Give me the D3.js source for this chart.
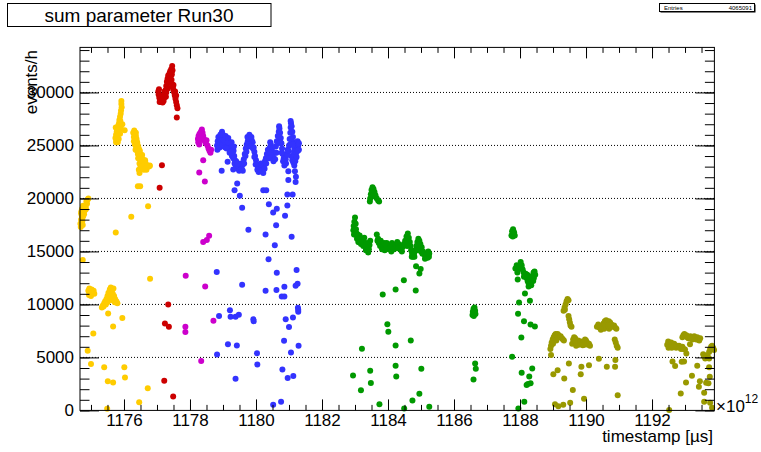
<!DOCTYPE html>
<html>
<head>
<meta charset="utf-8">
<script src="https://cdn.jsdelivr.net/npm/d3@7"></script>
<style>
  body { margin: 0; background: #fff; }
  svg { display: block; font-family: "Liberation Sans", Arial, Helvetica, sans-serif; }
</style>
</head>
<body>
<div id="chart"></div>
<script>
const title = 'sum parameter Run30';
const entries = 4065091;
const xTickLabels = [1176, 1178, 1180, 1182, 1184, 1186, 1188, 1190, 1192];
const yTickLabels = [0, 5000, 10000, 15000, 20000, 25000, 30000];
const xRange = [1174.667, 1193.89];
const yRange = [0, 34250];

// [timestamp (x1e12 us), events/h]
const yellowPts = [
  [1174.68, 17600], [1174.70, 18000], [1174.72, 18400], [1174.71, 18800], [1174.74, 17900], [1174.76, 18300],
  [1174.78, 18700], [1174.80, 19100], [1174.79, 18500], [1174.82, 18900], [1174.84, 19300], [1174.86, 19700],
  [1174.88, 19500], [1174.90, 19900], [1174.92, 20000], [1174.75, 17500], [1174.73, 19000],
  [1174.70, 18600], [1174.76, 19300], [1174.85, 19000], [1174.69, 17300],
  [1174.75, 14180],
  [1174.92, 11300], [1174.95, 11500], [1174.98, 11200], [1175.02, 11400], [1175.05, 11100], [1175.08, 11300],
  [1175.10, 11000], [1174.94, 10900], [1175.00, 10800],
  [1175.33, 9700], [1175.36, 9900], [1175.40, 10100], [1175.43, 10300], [1175.47, 10500], [1175.50, 10800],
  [1175.53, 11100], [1175.57, 11400], [1175.60, 11600], [1175.63, 11300], [1175.66, 11000], [1175.70, 10800],
  [1175.73, 10500], [1175.77, 10300], [1175.80, 10100], [1175.45, 10000], [1175.55, 10400], [1175.62, 10700],
  [1175.38, 9800], [1175.68, 11500], [1175.50, 10200], [1175.58, 10600], [1175.66, 10400], [1175.72, 10200],
  [1175.60, 11000],
  [1175.92, 29200], [1175.92, 28900], [1175.93, 28600], [1175.91, 28300], [1175.90, 28000], [1175.88, 27700],
  [1175.86, 27400], [1175.85, 27100], [1175.84, 26800], [1175.80, 26600], [1175.78, 26300], [1175.76, 26000],
  [1175.74, 25700], [1175.79, 25900], [1175.82, 26200], [1175.86, 26500], [1175.88, 26100], [1175.84, 25600],
  [1175.81, 25300], [1175.77, 25500], [1175.90, 26700], [1175.95, 27000], [1175.75, 26700],
  [1175.76, 25300], [1175.80, 25800], [1175.83, 26900], [1175.87, 26800], [1175.89, 27300],
  [1176.28, 26200], [1176.32, 26100], [1176.36, 25900], [1176.30, 25800], [1176.34, 25500], [1176.38, 25600],
  [1176.40, 25300], [1176.33, 25100], [1176.37, 24900], [1176.42, 25000], [1176.45, 24700], [1176.40, 24500],
  [1176.44, 24300], [1176.48, 24500], [1176.50, 24200], [1176.46, 24000], [1176.52, 23900], [1176.55, 24100],
  [1176.49, 23700], [1176.53, 23500], [1176.57, 23700], [1176.60, 23400], [1176.56, 23200], [1176.47, 23300],
  [1176.50, 23000], [1176.45, 22700], [1176.47, 22400], [1176.62, 23100], [1176.66, 23300], [1176.70, 23100],
  [1176.74, 23000], [1176.78, 23100], [1176.65, 22900], [1176.58, 22800], [1176.43, 23800], [1176.35, 24600],
  [1176.30, 25400], [1176.38, 24800], [1176.42, 24200], [1176.51, 23600], [1176.54, 23000], [1176.60, 22700],
  [1176.68, 22700], [1176.64, 23600], [1176.36, 26200], [1176.31, 26400],
  [1175.52, 9150], [1175.95, 8710], [1175.67, 7920], [1175.07, 7260], [1174.90, 5620], [1175.00, 4370],
  [1175.40, 4060], [1176.01, 4060], [1175.51, 2740], [1175.67, 2640], [1176.03, 3110], [1176.72, 2100],
  [1176.46, 780], [1175.49, 150], [1176.79, 12420], [1175.75, 16790], [1176.22, 18260], [1176.73, 19270],
  [1176.42, 21160], [1176.49, 21160], [1176.78, 23050], [1176.02, 26440]
];

const redPts = [
  [1177.04, 30100], [1177.05, 29800], [1177.07, 29500], [1177.10, 29300], [1177.13, 29100], [1177.17, 29050],
  [1177.20, 29200], [1177.22, 29500], [1177.24, 29800], [1177.26, 30200], [1177.28, 30600], [1177.30, 31000],
  [1177.32, 31300], [1177.34, 31600], [1177.36, 31500], [1177.38, 31800], [1177.40, 32000], [1177.43, 32200],
  [1177.46, 32500], [1177.47, 32100], [1177.45, 31700], [1177.44, 31200], [1177.46, 30800], [1177.48, 30500],
  [1177.50, 30200], [1177.52, 30000], [1177.54, 29700], [1177.56, 29400], [1177.58, 29100], [1177.60, 28800],
  [1177.62, 28500], [1177.28, 30000], [1177.33, 30400], [1177.08, 29100], [1177.15, 29400], [1177.37, 30900],
  [1177.06, 30300], [1177.12, 29700], [1177.18, 29500], [1177.23, 30100], [1177.27, 29600], [1177.30, 30300],
  [1177.35, 31100], [1177.39, 31300], [1177.42, 31600], [1177.45, 32000], [1177.50, 30700], [1177.55, 30100],
  [1177.58, 29700],
  [1177.60, 27640], [1177.15, 23140], [1177.08, 21000], [1177.34, 10000], [1177.24, 8210], [1177.36, 7890],
  [1177.22, 2790], [1177.49, 1320]
];

const magentaPts = [
  [1178.25, 25300], [1178.24, 25600], [1178.26, 25900], [1178.29, 26100], [1178.33, 26300], [1178.36, 26500],
  [1178.38, 26200], [1178.40, 25900], [1178.42, 25600], [1178.45, 25400], [1178.48, 25200], [1178.50, 25500],
  [1178.53, 25000], [1178.56, 24700], [1178.59, 24500], [1178.62, 24300], [1178.64, 24600], [1178.30, 25500],
  [1178.34, 25800], [1178.28, 25100],
  [1178.40, 23610], [1178.28, 22450], [1178.45, 21600], [1178.40, 15900], [1178.51, 16070], [1178.58, 16470],
  [1177.87, 12700], [1178.46, 11700], [1177.86, 7890], [1177.86, 7390], [1178.71, 8450], [1178.34, 4650]
];

const bluePts = [
  [1178.82, 25000], [1178.84, 25400], [1178.86, 25800], [1178.88, 25300], [1178.90, 24800], [1178.93, 25600],
  [1178.95, 26100], [1178.97, 26300], [1178.99, 25900], [1179.01, 25400], [1179.03, 24900], [1179.06, 25200],
  [1179.08, 25600], [1179.11, 25300], [1179.14, 24900], [1179.17, 25400], [1179.19, 25000], [1179.22, 24600],
  [1179.25, 24900], [1179.28, 24500], [1179.30, 24100], [1179.32, 24500], [1179.34, 24000], [1179.36, 23600],
  [1179.38, 23200], [1179.40, 23500], [1179.42, 23000], [1179.45, 22800], [1179.48, 23100], [1179.51, 22900],
  [1179.54, 23300], [1179.57, 22800], [1179.60, 23200], [1179.63, 23700], [1179.66, 24200], [1179.69, 24700],
  [1179.72, 25100], [1179.75, 25400], [1179.78, 25600], [1179.81, 25500], [1179.84, 25200], [1179.87, 25500],
  [1179.90, 25300], [1179.93, 24800], [1179.95, 24400], [1179.97, 24000], [1180.00, 23600], [1180.03, 23200],
  [1180.06, 22900], [1180.09, 22700], [1180.12, 23000], [1180.15, 23300], [1180.18, 23000], [1180.21, 22700],
  [1180.24, 23100], [1180.27, 23500], [1180.30, 23800], [1180.33, 24200], [1180.36, 24600], [1180.39, 24300],
  [1180.42, 24800], [1180.45, 25100], [1180.48, 24600], [1180.51, 24200], [1180.54, 23800], [1180.57, 24300],
  [1180.60, 24900], [1180.63, 25400], [1180.66, 25900], [1180.69, 26300], [1180.71, 26600], [1180.73, 26200],
  [1180.75, 25700], [1180.77, 25200], [1180.79, 24700], [1180.81, 24200], [1180.84, 23800], [1180.87, 23400],
  [1180.90, 23700], [1180.93, 24200], [1180.96, 24600], [1181.00, 25000], [1181.02, 25600], [1181.04, 26200],
  [1181.05, 26700], [1181.06, 27100], [1181.08, 26800], [1181.10, 26300], [1181.12, 25800], [1181.14, 25300],
  [1181.16, 24800], [1181.18, 24300], [1181.20, 23800], [1181.22, 24300], [1181.24, 24900], [1181.26, 25400],
  [1181.28, 25000], [1181.30, 24600], [1181.07, 24000], [1181.10, 23600], [1181.13, 23400], [1181.16, 23100],
  [1178.83, 24600], [1178.87, 24900], [1178.91, 25200], [1178.95, 25500], [1178.99, 25100], [1179.03, 25500],
  [1179.07, 24800], [1179.11, 24700], [1179.15, 25300], [1179.20, 24300], [1179.24, 24400], [1179.27, 24000],
  [1179.31, 23800], [1179.35, 23300], [1179.39, 22900], [1179.44, 23300], [1179.49, 22600], [1179.55, 22700],
  [1179.60, 22600], [1179.64, 23300], [1179.68, 24000], [1179.71, 24400], [1179.74, 24900], [1179.78, 25100],
  [1179.82, 24900], [1179.86, 24900], [1179.91, 24700], [1179.95, 23900], [1179.99, 23200], [1180.04, 22700],
  [1180.08, 22500], [1180.13, 22600], [1180.17, 22600], [1180.22, 22400], [1180.26, 22800], [1180.31, 23300],
  [1180.35, 23900], [1180.40, 23800], [1180.44, 24300], [1180.49, 24100], [1180.53, 23500], [1180.58, 23700],
  [1180.62, 24300], [1180.66, 25200], [1180.70, 25800], [1180.74, 25300], [1180.78, 24300], [1180.82, 23500],
  [1180.86, 23100], [1180.91, 23300], [1180.95, 24100], [1180.99, 24500], [1181.03, 25100], [1181.07, 25600],
  [1181.11, 25100], [1181.15, 24400], [1181.19, 23500], [1181.23, 23900], [1181.27, 24500], [1181.30, 25200],
  [1178.92, 26000], [1179.00, 26000], [1179.08, 25900], [1179.16, 25700], [1179.26, 25300], [1179.33, 24900],
  [1179.74, 25800], [1179.80, 26000], [1179.86, 25800], [1180.43, 25300], [1180.70, 26800], [1181.05, 27300],
  [1178.96, 22600], [1179.14, 23450], [1179.31, 22740], [1179.43, 21400], [1179.35, 20780], [1179.51, 20260],
  [1179.58, 19110], [1179.77, 17040], [1180.22, 20780], [1180.31, 20780], [1180.29, 16600], [1180.39, 19460],
  [1180.52, 18680], [1180.63, 19020], [1180.61, 17480], [1180.57, 15590], [1180.88, 18360], [1180.95, 19340],
  [1180.95, 20380], [1181.11, 20380], [1180.98, 21730], [1180.98, 22570], [1181.18, 22570], [1181.21, 22040],
  [1181.20, 21540], [1181.08, 16380],
  [1178.81, 13050], [1178.88, 8900], [1179.21, 9460], [1179.23, 8830], [1179.38, 8830], [1179.48, 9020],
  [1179.58, 11850], [1179.92, 8610], [1179.93, 8420], [1179.15, 6250], [1179.42, 6130], [1178.82, 5280],
  [1179.38, 2980], [1180.03, 5400], [1180.04, 4340], [1180.29, 11280], [1180.38, 14250], [1180.63, 12980],
  [1180.62, 11350], [1180.86, 11660], [1180.78, 10750], [1180.86, 10750], [1180.90, 8610], [1181.12, 8770],
  [1181.00, 7860], [1180.85, 6570], [1181.06, 5470], [1181.29, 6100], [1181.26, 11940], [1181.20, 11760],
  [1181.23, 13240], [1181.27, 9680], [1181.28, 9300], [1181.28, 9490], [1180.80, 3870], [1180.96, 3050],
  [1181.13, 3240], [1180.52, 530], [1180.76, 810]
];

const greenPts = [
  [1183.45, 19700], [1183.46, 20000], [1183.48, 20400], [1183.50, 20800], [1183.53, 21050], [1183.56, 20900],
  [1183.59, 20600], [1183.62, 20300], [1183.66, 20000], [1183.70, 19800], [1183.73, 19700], [1183.52, 20300],
  [1183.57, 20200],
  [1182.95, 17000], [1182.96, 17400], [1182.98, 17800], [1183.00, 18200], [1183.02, 17600], [1183.03, 17100],
  [1183.05, 16700], [1182.97, 16600], [1183.08, 16600], [1183.11, 16300], [1183.14, 16500], [1183.17, 16200],
  [1183.20, 16000], [1183.23, 16200], [1183.26, 15900], [1183.29, 15700], [1183.32, 15500], [1183.35, 15300],
  [1183.38, 15100], [1183.40, 14900], [1183.42, 15200], [1183.44, 15600], [1183.12, 15900], [1183.06, 16200],
  [1183.28, 16300], [1183.36, 15800], [1183.46, 16000],
  [1183.00, 16600], [1183.10, 15900], [1183.18, 15700], [1183.25, 15500], [1183.33, 15100], [1183.40, 15400],
  [1183.66, 16600], [1183.70, 16200], [1183.72, 15800], [1183.76, 15500], [1183.80, 15700], [1183.84, 15400],
  [1183.88, 15800], [1183.92, 15500], [1183.96, 15800], [1184.00, 15500], [1184.04, 15200], [1184.08, 15500],
  [1184.12, 15800], [1184.16, 15600], [1184.20, 15300], [1184.24, 15600], [1184.28, 15900], [1184.32, 15700],
  [1184.36, 15400], [1184.40, 15100], [1184.44, 15400], [1184.48, 15700], [1184.52, 16000], [1184.56, 16400],
  [1184.60, 16700], [1184.63, 16300], [1184.66, 15900], [1184.68, 15500], [1184.70, 15100], [1184.73, 14800],
  [1184.76, 14500], [1184.79, 14800], [1184.82, 15100], [1184.86, 15500], [1184.89, 15900], [1184.92, 16200],
  [1184.95, 16000], [1184.98, 15700], [1185.02, 15400], [1185.06, 15000], [1185.10, 14700], [1185.14, 14400],
  [1185.18, 14700], [1185.22, 15000], [1185.25, 14800], [1184.90, 15300], [1185.00, 15000], [1184.58, 15500],
  [1184.10, 15000], [1183.90, 15100], [1183.78, 16000],
  [1183.68, 16000], [1183.82, 15200], [1183.94, 15200], [1184.06, 15300], [1184.18, 15200], [1184.30, 15300],
  [1184.42, 15000], [1184.54, 15600], [1184.62, 15900], [1184.72, 14500], [1184.80, 14500], [1184.88, 15100],
  [1184.94, 15600], [1185.04, 14800], [1185.12, 14300], [1185.20, 14400], [1185.24, 14500],
  [1184.85, 13610], [1184.99, 13330], [1184.95, 12920], [1184.48, 12290], [1184.23, 11410], [1184.84, 11320],
  [1183.84, 10940], [1183.98, 8140], [1184.01, 7420], [1183.21, 5810], [1184.23, 6130], [1184.69, 6600],
  [1182.94, 3300], [1183.46, 3740], [1183.48, 2580], [1183.18, 1890], [1184.23, 4210], [1184.25, 3210],
  [1185.01, 3920], [1184.95, 1570], [1184.74, 940], [1183.74, 590], [1184.49, 190], [1185.25, 340],
  [1186.56, 9000], [1186.57, 9300], [1186.59, 9600], [1186.62, 9700], [1186.64, 9400], [1186.65, 9100],
  [1186.60, 8900], [1186.64, 4430], [1186.66, 3920], [1186.59, 2920],
  [1187.74, 16500], [1187.76, 16900], [1187.79, 17100], [1187.82, 16800], [1187.84, 16500], [1187.78, 16400],
  [1187.86, 13400], [1187.90, 13700], [1187.94, 13300], [1187.98, 13600], [1188.02, 14000], [1188.05, 13700],
  [1188.08, 13300], [1188.11, 13000], [1188.14, 12700], [1188.17, 12900], [1188.20, 12500], [1188.23, 12200],
  [1188.26, 12000], [1188.29, 11900], [1188.32, 12100], [1188.35, 12400], [1188.38, 12700], [1188.41, 13000],
  [1188.44, 13100], [1188.42, 12500], [1188.30, 12400], [1188.22, 12800], [1187.92, 13000],
  [1188.04, 13500], [1188.12, 12600], [1188.26, 11700], [1188.34, 11800], [1188.40, 12200], [1188.46, 12800],
  [1187.93, 12360], [1188.15, 11040], [1188.30, 10340], [1187.97, 10190], [1187.94, 9110], [1188.12, 8400],
  [1188.32, 8110], [1188.45, 7920], [1188.04, 6890], [1187.76, 5060], [1188.05, 3550], [1188.37, 3960],
  [1188.28, 3210], [1188.20, 2390], [1188.32, 2550], [1188.24, 2480], [1188.13, 810], [1187.95, 190]
];

const olivePts = [
  [1188.92, 5800], [1188.94, 6100], [1188.96, 6400], [1188.99, 6700], [1189.02, 6900], [1189.05, 7100],
  [1189.08, 7200], [1189.11, 7000], [1189.14, 7200], [1189.17, 7100], [1189.20, 6900], [1189.23, 7000],
  [1189.27, 6800], [1189.30, 6700], [1189.33, 6600], [1189.10, 6600], [1189.00, 6300],
  [1189.32, 9400], [1189.35, 9700], [1189.38, 10000], [1189.41, 10300], [1189.44, 10500], [1189.47, 10400],
  [1189.36, 9500],
  [1189.47, 8900], [1189.49, 8600], [1189.51, 8300], [1189.53, 8000], [1189.56, 7900],
  [1189.58, 6300], [1189.61, 6700], [1189.64, 6900], [1189.67, 6800], [1189.70, 6500], [1189.73, 6400],
  [1189.76, 6600], [1189.79, 6500], [1189.82, 6400], [1189.85, 6500], [1189.88, 6300], [1189.91, 6400],
  [1189.94, 6500], [1189.97, 6700], [1190.00, 6600], [1190.03, 6400], [1190.06, 6200], [1190.09, 6300],
  [1190.12, 6100], [1189.70, 6100], [1189.90, 6150], [1189.66, 6600], [1189.78, 6200], [1189.95, 6200],
  [1190.33, 7900], [1190.37, 8100], [1190.41, 7800], [1190.45, 7600], [1190.49, 7900], [1190.53, 8200],
  [1190.57, 8400], [1190.61, 8500], [1190.65, 8300], [1190.69, 8400], [1190.73, 8300], [1190.77, 8100],
  [1190.81, 7900], [1190.85, 8000], [1190.89, 7800], [1190.92, 7700], [1190.55, 7700], [1190.70, 7700],
  [1190.58, 8000], [1190.66, 8000], [1190.74, 7900],
  [1190.87, 6700], [1190.90, 6400], [1190.93, 6100], [1190.96, 5900],
  [1192.46, 6200], [1192.49, 6500], [1192.52, 6300], [1192.55, 6100], [1192.58, 6400], [1192.61, 6200],
  [1192.64, 6000], [1192.67, 6300], [1192.70, 6100], [1192.73, 5900], [1192.76, 6100], [1192.79, 6000],
  [1192.50, 5900], [1192.60, 5900], [1192.82, 6100], [1192.85, 5900], [1192.88, 5800], [1192.92, 6000],
  [1192.96, 5800], [1193.00, 5750],
  [1192.92, 6900], [1192.95, 7100], [1192.98, 7200], [1193.01, 7000], [1193.04, 7100], [1193.07, 6900],
  [1193.10, 6800], [1193.13, 6900], [1193.16, 7000], [1193.19, 6800], [1193.22, 6700], [1193.25, 6900],
  [1193.28, 7000], [1193.31, 6800], [1193.34, 6700], [1193.37, 6900], [1193.40, 6700], [1193.43, 6600],
  [1193.46, 6800],
  [1193.55, 5300], [1193.58, 5100], [1193.61, 4900], [1193.64, 5000], [1193.67, 5200], [1193.70, 5000],
  [1193.73, 4900],
  [1193.73, 5500], [1193.76, 5800], [1193.79, 6000], [1193.82, 6100], [1193.85, 5900], [1193.88, 5700],
  [1188.94, 5220], [1189.01, 3420], [1189.14, 3800], [1189.34, 3020], [1189.48, 4430], [1189.60, 1920],
  [1189.86, 4110], [1189.84, 3400], [1190.09, 4270], [1189.94, 1090], [1190.39, 4870], [1190.63, 4110],
  [1190.89, 4750], [1190.88, 4110], [1190.96, 1440], [1189.06, 590], [1189.16, 400], [1189.31, 530],
  [1189.52, 720], [1192.62, 4620], [1192.70, 4180], [1192.90, 4590], [1192.97, 4620], [1193.04, 5380],
  [1193.15, 6250], [1193.37, 4210], [1193.21, 3260], [1193.03, 2640], [1193.45, 2760], [1193.42, 2230],
  [1193.64, 2600], [1193.71, 2550], [1193.73, 4060], [1193.75, 3170], [1193.58, 1660], [1193.58, 810],
  [1192.87, 1600], [1192.52, 30], [1193.76, 720], [1193.82, 250]
];

const seriesPts = [yellowPts, redPts, magentaPts, bluePts, greenPts, olivePts];
const seriesColors = ['#ffcc00', '#cc0000', '#cc00cc', '#3333ff', '#009900', '#999900'];

const width = 761;
const height = 452;
const frame = { left: 80, right: 714.4, top: 47.4, bottom: 410.4 };

const svg = d3.select('#chart')
  .append('svg')
  .attr('width', width)
  .attr('height', height);

const x = d3.scaleLinear().domain(xRange).range([frame.left, frame.right]);
const y = d3.scaleLinear().domain(yRange).range([frame.bottom, frame.top]);

const plotW = frame.right - frame.left;
const plotH = frame.bottom - frame.top;

// dotted horizontal grid
svg.append('g')
  .selectAll('line')
  .data(yTickLabels.filter(d => d > 0))
  .join('line')
    .attr('x1', frame.left)
    .attr('x2', frame.right)
    .attr('y1', d => y(d))
    .attr('y2', d => y(d))
    .attr('stroke', '#000')
    .attr('stroke-width', 1)
    .attr('stroke-dasharray', '1,2');

// markers
seriesPts.forEach((pts, i) => {
  svg.append('g')
    .selectAll('circle')
    .data(pts)
    .join('circle')
      .attr('cx', d => x(d[0]))
      .attr('cy', d => y(d[1]))
      .attr('r', 3)
      .attr('fill', seriesColors[i]);
});

const xMinor = d3.range(1175, 1194, 0.5);
const yMinor = d3.range(0, 34001, 1000);

const styleAxis = g => {
  g.select('.domain').remove();
  g.selectAll('.tick line').attr('stroke', '#000');
};

// bottom axis
svg.append('g')
  .attr('transform', `translate(0,${frame.bottom})`)
  .call(d3.axisBottom(x).tickValues(xMinor).tickFormat('').tickSizeInner(-5.5).tickSizeOuter(0))
  .call(styleAxis);
svg.append('g')
  .attr('transform', `translate(0,${frame.bottom})`)
  .call(d3.axisBottom(x).tickValues(xTickLabels).tickFormat(d3.format('d')).tickSizeInner(-11).tickSizeOuter(0).tickPadding(4))
  .call(styleAxis)
  .call(g => g.selectAll('text').attr('font-size', 17).attr('fill', '#000').attr('font-family', null));

// top axis
svg.append('g')
  .attr('transform', `translate(0,${frame.top})`)
  .call(d3.axisTop(x).tickValues(xMinor).tickFormat('').tickSizeInner(-5.5).tickSizeOuter(0))
  .call(styleAxis);
svg.append('g')
  .attr('transform', `translate(0,${frame.top})`)
  .call(d3.axisTop(x).tickValues(xTickLabels).tickFormat('').tickSizeInner(-11).tickSizeOuter(0))
  .call(styleAxis);

// left axis
svg.append('g')
  .attr('transform', `translate(${frame.left},0)`)
  .call(d3.axisLeft(y).tickValues(yMinor).tickFormat('').tickSizeInner(-9.5).tickSizeOuter(0))
  .call(styleAxis);
svg.append('g')
  .attr('transform', `translate(${frame.left},0)`)
  .call(d3.axisLeft(y).tickValues(yTickLabels).tickFormat(d3.format('d')).tickSizeInner(-19).tickSizeOuter(0).tickPadding(6))
  .call(styleAxis)
  .call(g => g.selectAll('text').attr('font-size', 17).attr('fill', '#000').attr('font-family', null));

// right axis
svg.append('g')
  .attr('transform', `translate(${frame.right},0)`)
  .call(d3.axisRight(y).tickValues(yMinor).tickFormat('').tickSizeInner(-9.5).tickSizeOuter(0))
  .call(styleAxis);
svg.append('g')
  .attr('transform', `translate(${frame.right},0)`)
  .call(d3.axisRight(y).tickValues(yTickLabels).tickFormat('').tickSizeInner(-19).tickSizeOuter(0))
  .call(styleAxis);

// frame
svg.append('rect')
  .attr('x', frame.left)
  .attr('y', frame.top)
  .attr('width', plotW)
  .attr('height', plotH)
  .attr('fill', 'none')
  .attr('stroke', '#000')
  .attr('stroke-width', 1);

// axis titles
svg.append('text')
  .attr('transform', `translate(37,50) rotate(-90)`)
  .attr('text-anchor', 'end')
  .attr('font-size', 17)
  .text('events/h');

svg.append('text')
  .attr('x', 713)
  .attr('y', 442)
  .attr('text-anchor', 'end')
  .attr('font-size', 17)
  .text('timestamp [\u00b5s]');

const expo = svg.append('text')
  .attr('x', 716)
  .attr('y', 412)
  .attr('font-size', 17);
expo.append('tspan').text('\u00d710');
expo.append('tspan').attr('font-size', 12).attr('dy', -9).text('12');

// title box
svg.append('rect')
  .attr('x', 7.5).attr('y', 3.5)
  .attr('width', 263.5).attr('height', 23)
  .attr('fill', '#fff').attr('stroke', '#000');
svg.append('text')
  .attr('x', 139)
  .attr('y', 21.5)
  .attr('text-anchor', 'middle')
  .attr('font-size', 19)
  .text(title);

// stats box
svg.append('rect')
  .attr('x', 660.5).attr('y', 4.5)
  .attr('width', 95).attr('height', 8)
  .attr('fill', '#000');
svg.append('rect')
  .attr('x', 659.5).attr('y', 3.5)
  .attr('width', 95).attr('height', 8)
  .attr('fill', '#fff').attr('stroke', '#000');
svg.append('text')
  .attr('x', 664).attr('y', 10)
  .attr('font-size', 6)
  .text('Entries');
svg.append('text')
  .attr('x', 752).attr('y', 10)
  .attr('text-anchor', 'end')
  .attr('font-size', 6)
  .text(entries);
</script>
</body>
</html>
